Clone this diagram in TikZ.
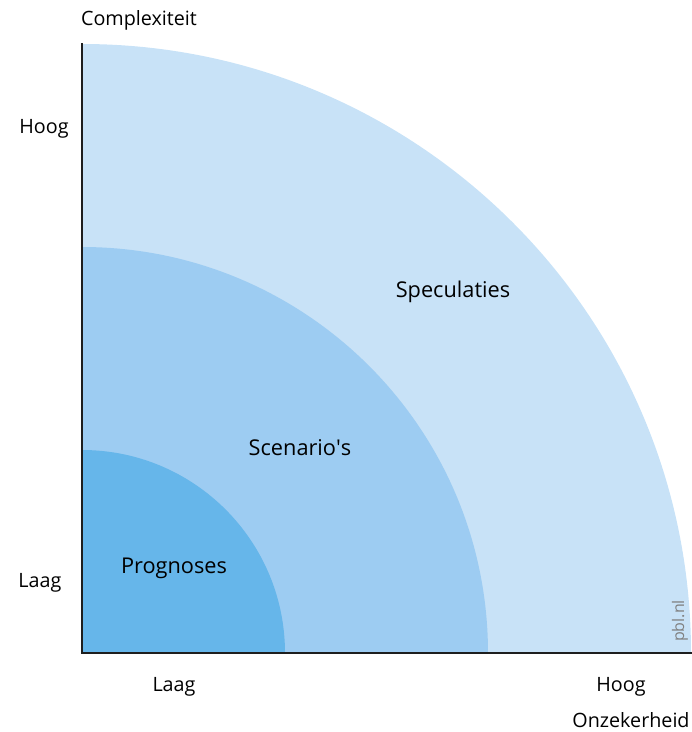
\documentclass[tikz,border=0pt]{standalone}
\usepackage{fontspec}
\setmainfont{Open Sans}
\definecolor{outerc}{HTML}{C8E2F7}
\definecolor{midc}{HTML}{9DCCF2}
\definecolor{innerc}{HTML}{66B6EA}
\definecolor{axisc}{HTML}{1E1E1E}
\newcommand{\straightquote}{\XeTeXglyph\XeTeXcharglyph"0027\relax}
\begin{document}
\begin{tikzpicture}[x=0.75pt,y=-0.75pt,
  axlabel/.style={font=\fontsize{14.8}{17}\selectfont, text=black, inner sep=0pt},
  arealabel/.style={font=\fontsize{16.3}{19}\selectfont, text=black, inner sep=0pt},
  axisline/.style={draw=axisc, line width=1.5pt}]
\useasboundingbox (0,0) rectangle (692,732);
\coordinate (O) at (82,653);
% sectors
\fill[outerc] (O) -- ++(0,-609) arc[start angle=90, end angle=0, radius=609*0.75pt] -- cycle;
\fill[midc] (O) -- ++(0,-406) arc[start angle=90, end angle=0, radius=406*0.75pt] -- cycle;
\fill[innerc] (O) -- ++(0,-203) arc[start angle=90, end angle=0, radius=203*0.75pt] -- cycle;
% axes
\coordinate (ytop) at (82,43);
\coordinate (xend) at (692,653);
\draw[axisline] (ytop) -- (O) -- (xend);
% labels
\node[axlabel] (cplx) at (139,20) {Complexiteit};
\node[axlabel] (yhoog) at (44,129) {Hoog};
\node[axlabel] (ylaag) at (40,583) {Laag};
\node[axlabel] (xlaag) at (174,687) {Laag};
\node[axlabel] (xhoog) at (621,687) {Hoog};
\node[axlabel] (onz) at (631,720) {Onzekerheid};
\node[arealabel] (spec) at (453,292) {Speculaties};
\node[arealabel] (scen) at (300,448) {Scenario\straightquote s};
\node[arealabel] (prog) at (174,568) {Prognoses};
\node[font=\fontsize{12}{14}\selectfont, text=gray, rotate=90, inner sep=0pt] (pbl) at (680,621) {pbl.nl};
\end{tikzpicture}
\end{document}
